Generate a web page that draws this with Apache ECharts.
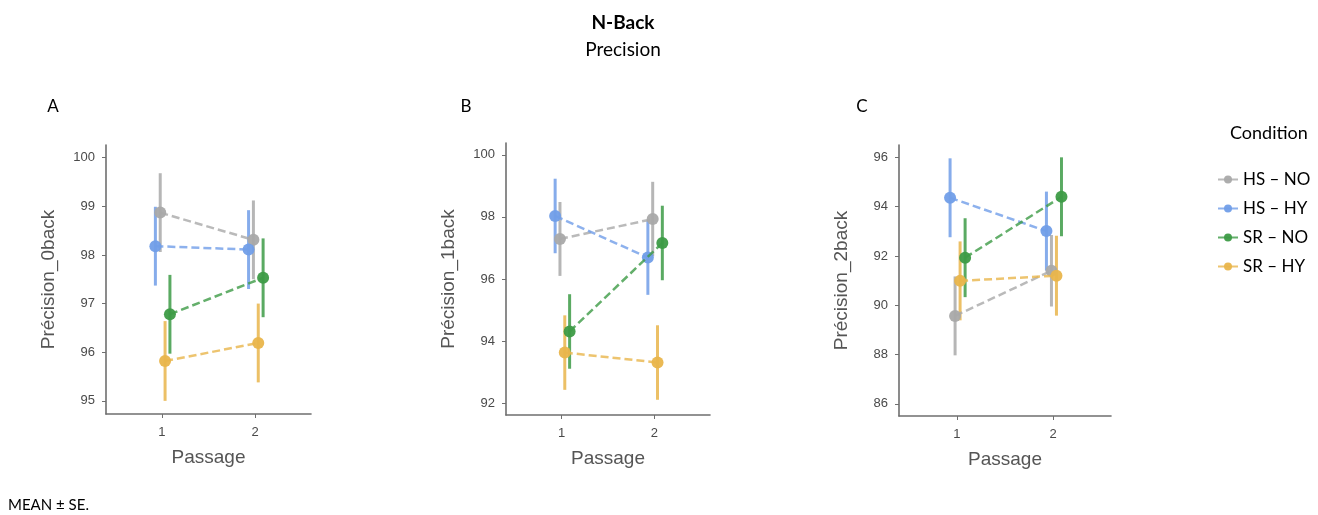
<!DOCTYPE html>
<html>
<head>
<meta charset="utf-8">
<script src="https://cdn.jsdelivr.net/npm/echarts@6/dist/echarts.min.js"></script>
<style>html,body{margin:0;padding:0;background:#fff}#c{width:1318px;height:515px}</style>
</head>
<body>
<div id="c"></div>
<script>
// ---- data ----
const passages = [1, 2];
const passageLabels = ['1', '2'];
const conditions = ['HS – NO', 'HS – HY', 'SR – NO', 'SR – HY'];
const panelLetters = ['A', 'B', 'C'];
const yTitles = ['Précision_0back', 'Précision_1back', 'Précision_2back'];

// Panel A (0-back): means and SE per condition, passage 1 / 2
const meanA_HSNO = [98.87, 98.31]; const seA_HSNO = [0.81, 0.81];
const meanA_HSHY = [98.18, 98.11]; const seA_HSHY = [0.81, 0.81];
const meanA_SRNO = [96.78, 97.53]; const seA_SRNO = [0.81, 0.81];
const meanA_SRHY = [95.82, 96.19]; const seA_SRHY = [0.82, 0.81];
// Panel B (1-back)
const meanB_HSNO = [97.29, 97.93]; const seB_HSNO = [1.19, 1.20];
const meanB_HSHY = [98.03, 96.69]; const seB_HSHY = [1.20, 1.20];
const meanB_SRNO = [94.31, 97.16]; const seB_SRNO = [1.20, 1.20];
const meanB_SRHY = [93.63, 93.31]; const seB_SRHY = [1.20, 1.20];
// Panel C (2-back)
const meanC_HSNO = [89.57, 91.40]; const seC_HSNO = [1.60, 1.45];
const meanC_HSHY = [94.36, 93.01]; const seC_HSHY = [1.60, 1.60];
const meanC_SRNO = [91.93, 94.40]; const seC_SRNO = [1.60, 1.60];
const meanC_SRHY = [90.99, 91.20]; const seC_SRHY = [1.60, 1.62];

const yTicksA = [95, 96, 97, 98, 99, 100];
const yTicksB = [92, 94, 96, 98, 100];
const yTicksC = [86, 88, 90, 92, 94, 96];

// ---- layout / style ----
const panels = [
  { means: [meanA_HSNO, meanA_HSHY, meanA_SRNO, meanA_SRHY], ses: [seA_HSNO, seA_HSHY, seA_SRNO, seA_SRHY], ticks: yTicksA,
    grid: { left: 106, top: 145, width: 205, height: 269 }, yMin: 94.73, yMax: 100.26, letterX: 53 },
  { means: [meanB_HSNO, meanB_HSHY, meanB_SRNO, meanB_SRHY], ses: [seB_HSNO, seB_HSHY, seB_SRNO, seB_SRHY], ticks: yTicksB,
    grid: { left: 506, top: 143, width: 204, height: 272 }, yMin: 91.62, yMax: 100.38, letterX: 466 },
  { means: [meanC_HSNO, meanC_HSHY, meanC_SRNO, meanC_SRHY], ses: [seC_HSNO, seC_HSHY, seC_SRNO, seC_SRHY], ticks: yTicksC,
    grid: { left: 899, top: 145, width: 212, height: 271 }, yMin: 85.51, yMax: 96.5, letterX: 862 }
];
const colors = ['#a9a9a9', '#719ee8', '#3d9b46', '#e9b54b'];
const dodge = [-0.018, -0.07, 0.086, 0.034];
const axisCol = '#6f6f6f';

const grids = [], xAxes = [], yAxes = [], series = [];
panels.forEach((p, pi) => {
  grids.push(p.grid);
  xAxes.push({
    type: 'value', gridIndex: pi, min: 0.4, max: 2.6,
    name: 'Passage', nameLocation: 'middle', nameGap: 34,
    nameTextStyle: { fontSize: 19, color: '#555', fontFamily: 'Liberation Sans' },
    axisLine: { show: true, lineStyle: { color: axisCol, width: 1.6 } },
    axisTick: { show: true, length: 4, lineStyle: { color: axisCol }, customValues: passages },
    axisLabel: { customValues: passages, formatter: v => passageLabels[passages.indexOf(v)], margin: 12,
      fontSize: 13, color: '#4a4a4a', fontFamily: 'Liberation Sans' },
    splitLine: { show: false }
  });
  yAxes.push({
    type: 'value', gridIndex: pi, min: p.yMin, max: p.yMax,
    name: yTitles[pi], nameLocation: 'middle', nameGap: 48, nameRotate: 90,
    nameTextStyle: { fontSize: 19, color: '#555', fontFamily: 'Liberation Sans' },
    axisLine: { show: true, lineStyle: { color: axisCol, width: 1.6 } },
    axisTick: { show: true, length: 4, lineStyle: { color: axisCol }, customValues: p.ticks },
    axisLabel: { customValues: p.ticks, margin: 11, fontSize: 13, color: '#4a4a4a', fontFamily: 'Liberation Sans' },
    splitLine: { show: false }
  });
  conditions.forEach((cond, ci) => {
    const m = p.means[ci], se = p.ses[ci];
    const col = colors[ci];
    series.push({
      type: 'custom', name: cond + ' SE', xAxisIndex: pi, yAxisIndex: pi, z: 2 + ci * 0.1,
      data: passages.map((x, k) => [x + dodge[ci], m[k] - se[k], m[k] + se[k]]),
      renderItem: (params, api) => {
        const a = api.coord([api.value(0), api.value(1)]);
        const b = api.coord([api.value(0), api.value(2)]);
        return { type: 'line', shape: { x1: a[0], y1: a[1], x2: b[0], y2: b[1] },
          style: { stroke: col, lineWidth: 3, opacity: 0.85 } };
      },
      silent: true
    });
    series.push({
      type: 'line', name: cond, xAxisIndex: pi, yAxisIndex: pi, z: 3 + ci * 0.1,
      data: passages.map((x, k) => [x + dodge[ci], m[k]]),
      symbol: 'circle', symbolSize: 12,
      itemStyle: { color: col, opacity: 0.95 },
      lineStyle: { color: col, width: 2.5, type: [8, 4], opacity: 0.8 },
      animation: false
    });
  });
});

const graphic = [
  { type: 'text', x: 623, y: 23, style: { text: 'N-Back', textAlign: 'center', textVerticalAlign: 'middle', font: 'bold 19px Lato', fill: '#000' } },
  { type: 'text', x: 623, y: 50, style: { text: 'Precision', textAlign: 'center', textVerticalAlign: 'middle', font: '19px Lato', fill: '#000' } },
  { type: 'text', x: 1230, y: 133, style: { text: 'Condition', textAlign: 'left', textVerticalAlign: 'middle', font: '18px Lato', fill: '#000' } },
  { type: 'text', x: 8, y: 505, style: { text: 'MEAN ± SE.', textAlign: 'left', textVerticalAlign: 'middle', font: '15px Lato', fill: '#000' } }
];
panels.forEach((p, pi) => graphic.push({ type: 'text', x: p.letterX, y: 107,
  style: { text: panelLetters[pi], textAlign: 'center', textVerticalAlign: 'middle', font: '17px Lato', fill: '#000' } }));

const chart = echarts.init(document.getElementById('c'), null, { renderer: 'canvas' });
chart.setOption({
  animation: false,
  backgroundColor: '#fff',
  grid: grids, xAxis: xAxes, yAxis: yAxes, series: series, graphic: graphic,
  legend: {
    data: conditions, orient: 'vertical', left: 1212, top: 166, itemGap: 12,
    itemWidth: 20, itemHeight: 10,
    lineStyle: { type: 'solid', width: 2 },
    textStyle: { fontSize: 17, fontFamily: 'Lato', color: '#000' }
  }
});
</script>
</body>
</html>
